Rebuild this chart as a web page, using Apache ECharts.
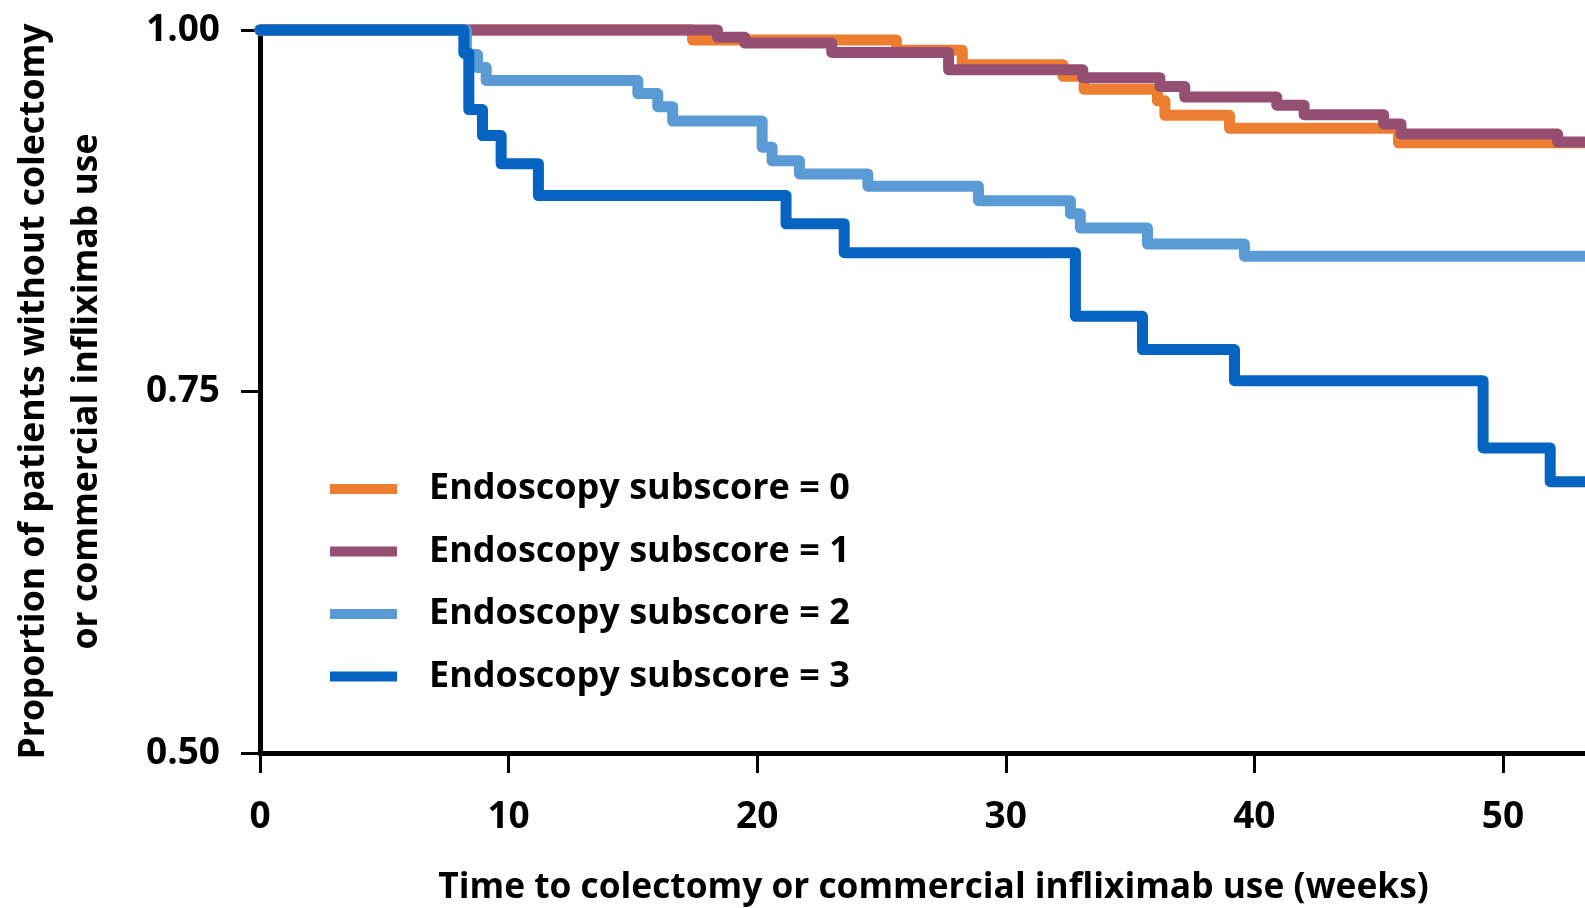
<!DOCTYPE html>
<html>
<head>
<meta charset="utf-8">
<script src="https://cdn.jsdelivr.net/npm/echarts@6/dist/echarts.min.js"></script>
<style>
html,body{margin:0;padding:0;background:#fff;}
#chart{width:1585px;height:908px;}
</style>
</head>
<body>
<div id="chart"></div>
<script>
// ---- Data ----
const seriesNames = ['Endoscopy subscore = 0', 'Endoscopy subscore = 1', 'Endoscopy subscore = 2', 'Endoscopy subscore = 3'];
const seriesColors = ['#ED7D31', '#954F72', '#5B9BD5', '#0563C1'];

const score0Times = [0, 17.4, 25.6, 28.25, 32.3, 33.15, 36.1, 36.4, 39.0, 45.8, 53.3];
const score0Surv  = [1.0, 0.993, 0.986, 0.976, 0.968, 0.959, 0.951, 0.941, 0.932, 0.922, 0.922];

const score1Times = [0, 18.4, 19.5, 23.0, 27.7, 33.1, 36.2, 37.2, 40.9, 42.0, 45.2, 45.9, 52.2, 53.3];
const score1Surv  = [1.0, 0.995, 0.991, 0.9845, 0.9725, 0.967, 0.961, 0.9536, 0.948, 0.9414, 0.935, 0.928, 0.9225, 0.9225];

const score2Times = [0, 8.3, 8.75, 9.1, 15.2, 16.0, 16.6, 20.2, 20.6, 21.7, 24.45, 28.9, 32.6, 33.0, 35.7, 39.6, 53.3];
const score2Surv  = [1.0, 0.983, 0.974, 0.965, 0.956, 0.947, 0.937, 0.919, 0.9095, 0.9005, 0.892, 0.882, 0.873, 0.863, 0.852, 0.8436, 0.8436];

const score3Times = [0, 8.2, 8.4, 8.95, 9.7, 11.2, 21.16, 23.5, 32.8, 35.5, 39.2, 49.2, 51.9, 53.3];
const score3Surv  = [1.0, 0.984, 0.945, 0.927, 0.9075, 0.8855, 0.866, 0.846, 0.802, 0.779, 0.7575, 0.711, 0.6876, 0.6876];

const xTickValues = [0, 10, 20, 30, 40, 50];
const yTickValues = [0.50, 0.75, 1.00];

const xTitle = 'Time to colectomy or commercial infliximab use (weeks)';
const yTitle = 'Proportion of patients without colectomy\nor commercial infliximab use';

// ---- Build ----
const allTimes = [score0Times, score1Times, score2Times, score3Times];
const allSurv = [score0Surv, score1Surv, score2Surv, score3Surv];
const FONT = '"Open Sans", "Noto Sans", sans-serif';

const series = seriesNames.map((name, i) => ({
  name: name,
  type: 'line',
  step: 'end',
  data: allTimes[i].map((t, j) => [t, allSurv[i][j]]),
  showSymbol: false,
  symbol: 'none',
  clip: false,
  z: 2 + i,
  lineStyle: { color: seriesColors[i], width: 11, join: 'round', cap: 'round' },
  itemStyle: { color: seriesColors[i] }
}));

const chart = echarts.init(document.getElementById('chart'), null, { renderer: 'canvas' });
chart.setOption({
  animation: false,
  backgroundColor: '#ffffff',
  grid: { left: 260, right: 0, top: 30, bottom: 155, containLabel: false, outerBoundsMode: 'none' },
  legend: {
    orient: 'vertical',
    left: 325,
    top: 464,
    icon: 'rect',
    itemWidth: 67,
    itemHeight: 10,
    itemGap: 22.5,
    data: seriesNames,
    textStyle: { fontFamily: FONT, fontWeight: 'bold', fontSize: 36, color: '#000', lineHeight: 40, padding: [0, 0, 0, 27] }
  },
  xAxis: {
    type: 'value',
    min: 0,
    max: 53.3,
    interval: 10,
    name: xTitle,
    nameLocation: 'middle',
    nameGap: 117,
    nameTextStyle: { fontFamily: FONT, fontWeight: 'bold', fontSize: 35.3, color: '#000', padding: [0, 0, 0, 22] },
    axisLine: { show: true, lineStyle: { color: '#000', width: 5 } },
    axisTick: { show: true, inside: false, length: 20, lineStyle: { color: '#000', width: 3 } },
    axisLabel: {
      fontFamily: FONT, fontWeight: 'bold', fontSize: 37, color: '#000', margin: 46,
      showMaxLabel: false,
      formatter: v => (xTickValues.indexOf(v) >= 0 ? String(v) : '')
    },
    splitLine: { show: false }
  },
  yAxis: {
    type: 'value',
    min: 0.5,
    max: 1.0,
    interval: 0.25,
    name: yTitle,
    nameLocation: 'middle',
    nameRotate: 90,
    nameGap: 147,
    nameTextStyle: { fontFamily: FONT, fontWeight: 'bold', fontSize: 35.5, color: '#000', lineHeight: 53, align: 'center' },
    axisLine: { show: true, lineStyle: { color: '#000', width: 5 } },
    axisTick: { show: true, inside: false, length: 19, lineStyle: { color: '#000', width: 3 } },
    axisLabel: {
      fontFamily: FONT, fontWeight: 'bold', fontSize: 37, color: '#000', margin: 40,
      formatter: v => (yTickValues.some(t => Math.abs(t - v) < 1e-9) ? v.toFixed(2) : '')
    },
    splitLine: { show: false }
  },
  series: series
});
</script>
</body>
</html>
